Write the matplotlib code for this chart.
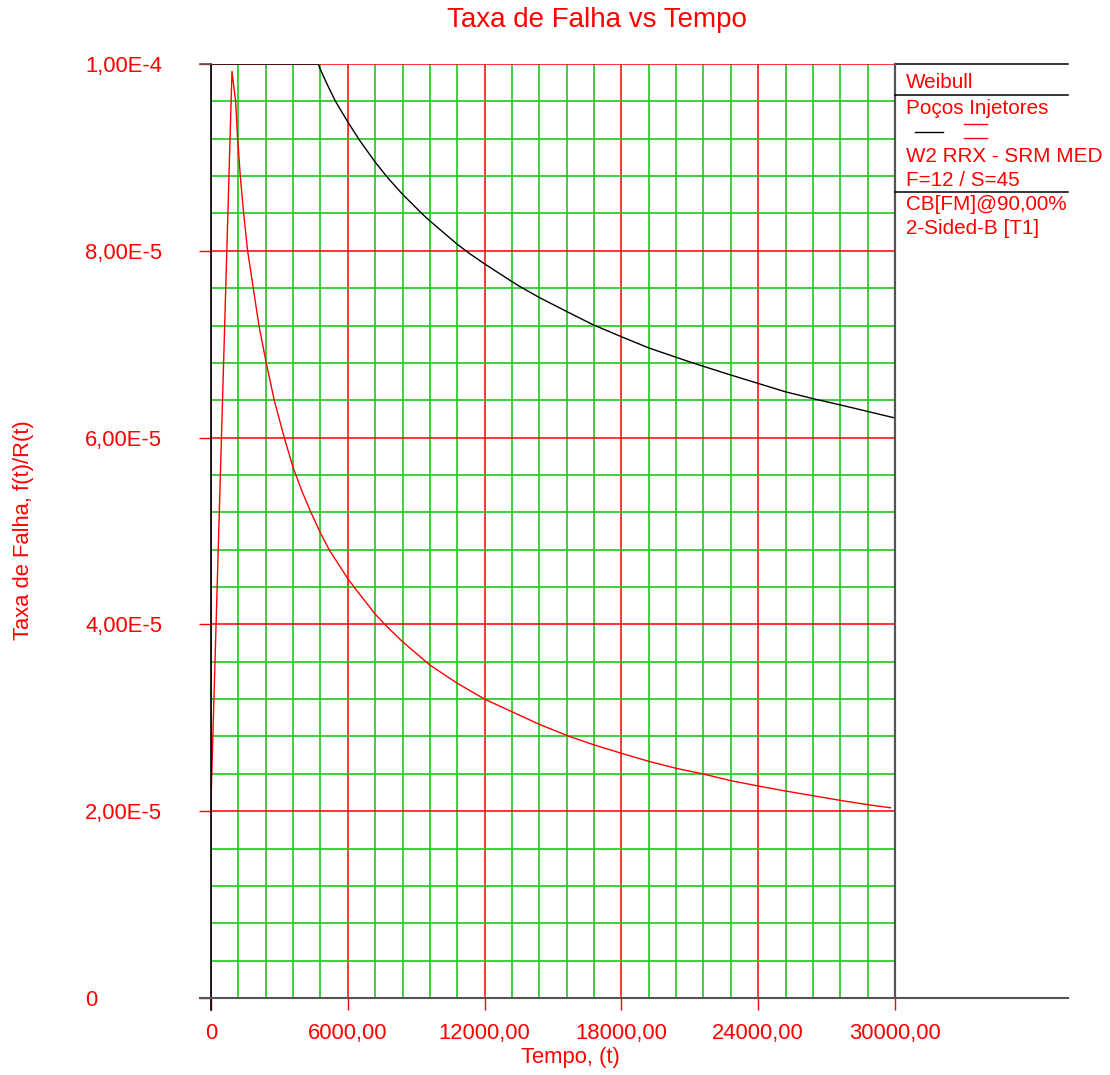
import matplotlib
matplotlib.use("Agg")
import matplotlib.pyplot as plt
from matplotlib.ticker import MultipleLocator, FixedLocator

plt.rcParams['font.family'] = ['Liberation Sans', 'DejaVu Sans']

# Failure-rate curves (time, failure rate)
upper_t = [0, 4700, 4800, 5100, 5460, 6000, 6526, 7200, 7723, 8400, 9329, 9600,
           10800, 11343, 12000, 13200, 13533, 14400, 15600, 16745, 18000, 19200,
           20400, 21124, 22800, 24000, 25200, 26526, 27600, 28800, 30000]
upper_v = [1.0e-4, 1.0e-4, 9.94e-5, 9.78e-5, 9.6e-5, 9.38e-5, 9.18e-5, 8.95e-5,
           8.79e-5, 8.605e-5, 8.38e-5, 8.32e-5, 8.07e-5, 7.97e-5, 7.86e-5, 7.67e-5,
           7.62e-5, 7.50e-5, 7.35e-5, 7.21e-5, 7.08e-5, 6.96e-5, 6.86e-5, 6.80e-5,
           6.67e-5, 6.58e-5, 6.49e-5, 6.41e-5, 6.35e-5, 6.28e-5, 6.21e-5]

lower_t = [0, 920, 1080, 1168, 1285, 1432, 1606, 1854, 2102, 2423, 2774, 3212,
           3600, 4000, 4380, 4800, 5182, 6000, 6307, 7200, 7664, 8400, 9600,
           10800, 12000, 13200, 14400, 15723, 16800, 18000, 19200, 20400, 21562,
           22800, 24000, 25200, 26400, 27600, 28800, 29800]
lower_v = [2.11e-5, 9.92e-5, 9.6e-5, 9.2e-5, 8.8e-5, 8.4e-5, 8.0e-5, 7.6e-5, 7.2e-5,
           6.8e-5, 6.4e-5, 6.0e-5, 5.68e-5, 5.42e-5, 5.2e-5, 4.98e-5, 4.8e-5,
           4.49e-5, 4.39e-5, 4.11e-5, 3.99e-5, 3.815e-5, 3.565e-5, 3.37e-5, 3.2e-5,
           3.065e-5, 2.93e-5, 2.8e-5, 2.71e-5, 2.62e-5, 2.534e-5, 2.459e-5, 2.4e-5,
           2.327e-5, 2.27e-5, 2.216e-5, 2.166e-5, 2.116e-5, 2.07e-5, 2.037e-5]

x_ticks = [0, 6000, 12000, 18000, 24000, 30000]
x_tick_labels = ["0", "6000,00", "12000,00", "18000,00", "24000,00", "30000,00"]
y_ticks = [0, 2e-5, 4e-5, 6e-5, 8e-5, 1e-4]
y_tick_labels = ["0", "2,00E-5", "4,00E-5", "6,00E-5", "8,00E-5", "1,00E-4"]

legend_lines = ["Weibull", "Poços Injetores", "W2 RRX - SRM MED", "F=12 / S=45",
                "CB[FM]@90,00%", "2-Sided-B [T1]"]

RED = "#ff0000"
GREEN = "#1ec81e"
FRAME = "#555555"

W, H = 1110, 1075
fig = plt.figure(figsize=(W / 100, H / 100), dpi=100)
x0, x1, y0, y1 = 211, 895, 64, 998
ax = fig.add_axes([x0 / W, 1 - y1 / H, (x1 - x0) / W, (y1 - y0) / H])
ax.set_xlim(0, 30000)
ax.set_ylim(0, 1e-4)

for s in ax.spines.values():
    s.set_visible(False)

ax.xaxis.set_major_locator(FixedLocator(x_ticks))
ax.xaxis.set_minor_locator(MultipleLocator(1200))
ax.yaxis.set_major_locator(FixedLocator(y_ticks))
ax.yaxis.set_minor_locator(MultipleLocator(4e-6))
ax.set_xticklabels(x_tick_labels)
ax.set_yticklabels(y_tick_labels)

ax.grid(which='minor', color=GREEN, lw=1.2, zorder=1)
ax.grid(which='major', color=RED, lw=1.1, zorder=1)
ax.set_axisbelow(True)
ax.tick_params(which='minor', length=0)
ax.tick_params(which='major', length=8.5, width=1.0, color=RED,
               labelsize=15.8, labelcolor=RED)
ax.tick_params(axis='x', which='major', pad=9.5)
ax.tick_params(axis='y', which='major', pad=82)
for lab in ax.get_yticklabels():
    lab.set_horizontalalignment('left')

# curves
ax.plot(upper_t, upper_v, color='black', lw=1.0, zorder=4)
ax.plot(lower_t, lower_v, color=RED, lw=1.0, zorder=4)

# frame: left axis, bottom line, right legend separator, top extension
px_w = 1.0 / (x1 - x0)
px_h = 1.0 / (y1 - y0)
ax.plot([0, 0], [-12 * px_h, 1], transform=ax.transAxes, color='black',
        lw=1.2, clip_on=False, zorder=5)
ax.plot([-11 * px_w, (1068 - x0) * px_w], [0, 0], transform=ax.transAxes,
        color=FRAME, lw=1.5, clip_on=False, zorder=5)
ax.plot([-11 * px_w, 0], [1, 1], transform=ax.transAxes,
        color=FRAME, lw=1.2, clip_on=False, zorder=5)
ax.plot([1, (1068 - x0) * px_w], [1, 1], transform=ax.transAxes,
        color='black', lw=1.1, clip_on=False, zorder=5)
ax.plot([1, 1], [0, 1], transform=ax.transAxes, color=FRAME, lw=1.6,
        clip_on=False, zorder=5)

def fx(px):
    return px / W

def fy(py):
    return 1 - py / H

# legend panel
for sep in (95, 191.7):
    fig.add_artist(plt.Line2D([fx(895), fx(1068)], [fy(sep), fy(sep)],
                              color='black', lw=1.1))
fig.add_artist(plt.Line2D([fx(915), fx(943)], [fy(131.7), fy(131.7)],
                          color='black', lw=1.0))
for ly in (124.3, 137.7):
    fig.add_artist(plt.Line2D([fx(964), fx(987)], [fy(ly), fy(ly)],
                              color=RED, lw=1.0))
legend_y = [83, 108, 157, 180.5, 204.5, 229]
for txt, ty in zip(legend_lines, legend_y):
    fig.text(fx(906), fy(ty), txt, color=RED, fontsize=14.9,
             ha='left', va='center')

fig.text(fx(597), fy(20), "Taxa de Falha vs Tempo", color=RED, fontsize=20,
         ha='center', va='center')
fig.text(fx(570), fy(1057), "Tempo, (t)", color=RED, fontsize=15.8,
         ha='center', va='center')
fig.text(fx(24), fy(530), "Taxa de Falha, f(t)/R(t)", color=RED, fontsize=15.8,
         ha='center', va='center', rotation=90)

fig.savefig("out.png", dpi=100)
